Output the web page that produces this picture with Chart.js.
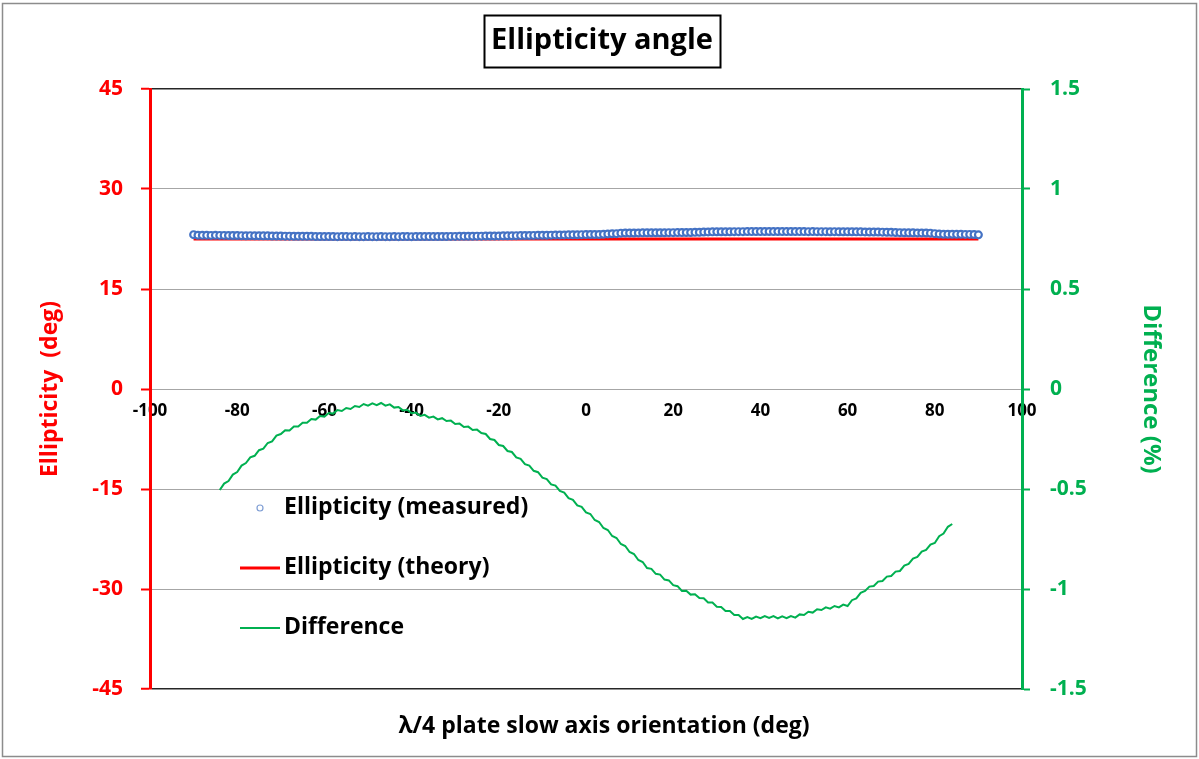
<!DOCTYPE html>
<html>
<head>
<meta charset="utf-8">
<title>Ellipticity angle</title>
<script src="https://cdn.jsdelivr.net/npm/chart.js@4.4.1/dist/chart.umd.min.js"></script>
<style>
    html, body { margin: 0; padding: 0; background: #ffffff; }
    #wrap { width: 1199px; height: 759px; position: relative; }
</style>
</head>
<body>
<div id="wrap"><canvas id="chart" width="1199" height="759"></canvas></div>
<script>
/* ---------- data ---------- */

// λ/4 plate slow axis orientation (deg)
const angles = [
    -90, -89, -88, -87, -86, -85, -84, -83, -82, -81, -80, -79, -78, -77, -76, -75, -74, -73, -72, -71,
    -70, -69, -68, -67, -66, -65, -64, -63, -62, -61, -60, -59, -58, -57, -56, -55, -54, -53, -52, -51,
    -50, -49, -48, -47, -46, -45, -44, -43, -42, -41, -40, -39, -38, -37, -36, -35, -34, -33, -32, -31,
    -30, -29, -28, -27, -26, -25, -24, -23, -22, -21, -20, -19, -18, -17, -16, -15, -14, -13, -12, -11,
    -10, -9, -8, -7, -6, -5, -4, -3, -2, -1, 0, 1, 2, 3, 4, 5, 6, 7, 8, 9,
    10, 11, 12, 13, 14, 15, 16, 17, 18, 19, 20, 21, 22, 23, 24, 25, 26, 27, 28, 29,
    30, 31, 32, 33, 34, 35, 36, 37, 38, 39, 40, 41, 42, 43, 44, 45, 46, 47, 48, 49,
    50, 51, 52, 53, 54, 55, 56, 57, 58, 59, 60, 61, 62, 63, 64, 65, 66, 67, 68, 69,
    70, 71, 72, 73, 74, 75, 76, 77, 78, 79, 80, 81, 82, 83, 84, 85, 86, 87, 88, 89,
    90
];

// Ellipticity (measured), deg
const measured = [
    23.15, 23.06, 23.05, 23.05, 23.04, 23.05, 23.04, 23.04, 23.03, 23.03, 23.02, 23.00, 22.99, 23.00, 22.98, 22.98, 22.97, 22.97, 22.95, 22.94,
    22.94, 22.93, 22.93, 22.92, 22.92, 22.91, 22.90, 22.90, 22.87, 22.86, 22.86, 22.87, 22.86, 22.85, 22.86, 22.86, 22.85, 22.86, 22.85, 22.85,
    22.86, 22.85, 22.85, 22.86, 22.85, 22.85, 22.86, 22.85, 22.86, 22.86, 22.85, 22.86, 22.86, 22.87, 22.86, 22.86, 22.87, 22.87, 22.88, 22.89,
    22.89, 22.90, 22.90, 22.91, 22.92, 22.93, 22.93, 22.94, 22.95, 22.95, 22.96, 22.97, 22.98, 22.99, 23.00, 23.01, 23.02, 23.03, 23.04, 23.05,
    23.06, 23.07, 23.08, 23.09, 23.10, 23.11, 23.12, 23.13, 23.14, 23.15, 23.16, 23.17, 23.18, 23.18, 23.22, 23.26, 23.28, 23.30, 23.38, 23.39,
    23.40, 23.40, 23.41, 23.42, 23.42, 23.43, 23.43, 23.44, 23.44, 23.45, 23.45, 23.46, 23.46, 23.47, 23.48, 23.50, 23.52, 23.55, 23.56, 23.57,
    23.58, 23.58, 23.59, 23.59, 23.60, 23.60, 23.60, 23.61, 23.61, 23.61, 23.61, 23.62, 23.62, 23.61, 23.62, 23.61, 23.61, 23.62, 23.61, 23.61,
    23.61, 23.60, 23.61, 23.60, 23.60, 23.60, 23.59, 23.60, 23.59, 23.59, 23.58, 23.58, 23.57, 23.57, 23.56, 23.55, 23.55, 23.54, 23.53, 23.52,
    23.50, 23.48, 23.45, 23.43, 23.42, 23.42, 23.41, 23.41, 23.40, 23.38, 23.30, 23.24, 23.22, 23.21, 23.21, 23.20, 23.20, 23.19, 23.19, 23.18,
    23.12
];

// Ellipticity (theory), deg
const theoryAngles = [-90, 90];
const theory = [22.5, 22.5];

// Difference (%), null where no value is plotted
const difference = [
    null, null, null, null, null, null,
    -0.505, -0.473, -0.460, -0.428, -0.415, -0.383, -0.370, -0.342, -0.334, -0.306, -0.298, -0.270, -0.262, -0.233,
    -0.225, -0.206, -0.207, -0.187, -0.188, -0.169, -0.169, -0.150, -0.153, -0.135, -0.138, -0.120, -0.123, -0.105,
    -0.110, -0.095, -0.100, -0.085, -0.090, -0.075, -0.083, -0.072, -0.081, -0.070, -0.083, -0.077, -0.093, -0.090,
    -0.107, -0.104, -0.121, -0.118, -0.135, -0.129, -0.143, -0.138, -0.152, -0.146, -0.160, -0.158, -0.175, -0.173,
    -0.190, -0.188, -0.205, -0.203, -0.220, -0.225, -0.250, -0.255, -0.280, -0.285, -0.310, -0.315, -0.342, -0.349,
    -0.376, -0.383, -0.409, -0.416, -0.443, -0.450, -0.477, -0.483, -0.510, -0.518, -0.546, -0.554, -0.582, -0.589,
    -0.617, -0.625, -0.655, -0.665, -0.695, -0.705, -0.735, -0.745, -0.775, -0.785, -0.815, -0.825, -0.855, -0.865,
    -0.895, -0.899, -0.924, -0.928, -0.953, -0.957, -0.981, -0.986, -1.010, -1.009, -1.028, -1.026, -1.045, -1.046,
    -1.067, -1.068, -1.089, -1.090, -1.110, -1.110, -1.130, -1.130, -1.150, -1.141, -1.150, -1.138, -1.146, -1.135,
    -1.145, -1.136, -1.147, -1.137, -1.146, -1.135, -1.143, -1.127, -1.130, -1.114, -1.118, -1.101, -1.105, -1.092,
    -1.098, -1.085, -1.092, -1.078, -1.085, -1.056, -1.047, -1.019, -1.010, -0.988, -0.985, -0.963, -0.960, -0.938,
    -0.935, -0.913, -0.910, -0.883, -0.875, -0.848, -0.840, -0.813, -0.805, -0.778, -0.770, -0.736, -0.723, -0.689,
    -0.675,
    null, null, null, null, null, null
];

const seriesLabels = ['Ellipticity (measured)', 'Ellipticity (theory)', 'Difference'];
const chartTitle = 'Ellipticity angle';
const xTitle = 'λ/4 plate slow axis orientation (deg)';
const yTitle = 'Ellipticity  (deg)';
const y2Title = 'Difference (%)';

/* ---------- styling ---------- */

const FONT = '"Open Sans", "Noto Sans", sans-serif';
const RED = '#FF0000';
const GREEN = '#00B050';
const BLUE = '#4472C4';
const GRID = '#A6A6A6';

const pts = (xs, ys) => xs.map((x, i) => ({ x, y: ys[i] }));

// white page, outer frame and the boxed title
const framePlugin = {
    id: 'frame',
    beforeDraw(chart) {
        const ctx = chart.ctx;
        ctx.save();
        ctx.fillStyle = '#ffffff';
        ctx.fillRect(0, 0, chart.width, chart.height);
        ctx.strokeStyle = '#8C8C8C';
        ctx.lineWidth = 1.5;
        ctx.strokeRect(2.5, 3.5, chart.width - 5, chart.height - 6);
        ctx.restore();
    },
    afterDraw(chart) {
        const ctx = chart.ctx;
        ctx.save();
        // title with box
        ctx.font = `bold 29px ${FONT}`;
        ctx.fillStyle = '#000000';
        ctx.textAlign = 'center';
        ctx.textBaseline = 'middle';
        const cx = 602;
        const w = ctx.measureText(chartTitle).width + 14;
        ctx.fillText(chartTitle, cx, 41);
        ctx.strokeStyle = '#000000';
        ctx.lineWidth = 2;
        ctx.strokeRect(Math.round(cx - w / 2) + 0.5, 15.5, Math.round(w), 52);
        // x axis title
        ctx.font = `bold 23px ${FONT}`;
        ctx.fillText(xTitle, 604, 726);
        ctx.restore();
    }
};

// Excel-style legend sitting inside the plot
const legendPlugin = {
    id: 'insideLegend',
    afterDatasetsDraw(chart) {
        const ctx = chart.ctx;
        ctx.save();
        ctx.font = `bold 23px ${FONT}`;
        ctx.fillStyle = '#000000';
        ctx.textAlign = 'left';
        ctx.textBaseline = 'middle';
        chart.data.datasets.forEach((ds, i) => {
            const y = 508 + i * 60;
            if (ds.showLine === false) {
                ctx.beginPath();
                ctx.arc(260, y, 3, 0, Math.PI * 2);
                ctx.strokeStyle = '#7F9ED4';
                ctx.lineWidth = 1.2;
                ctx.stroke();
            } else {
                ctx.beginPath();
                ctx.moveTo(240, y);
                ctx.lineTo(280, y);
                ctx.strokeStyle = ds.borderColor;
                ctx.lineWidth = ds.borderWidth;
                ctx.stroke();
            }
            ctx.fillText(ds.label, 284, y - 1);
        });
        ctx.restore();
    }
};

new Chart(document.getElementById('chart'), {
    type: 'line',
    data: {
        datasets: [
            {
                label: seriesLabels[0],
                data: pts(angles, measured),
                yAxisID: 'y',
                showLine: false,
                pointStyle: 'circle',
                pointRadius: 3.4,
                pointBorderWidth: 2.2,
                pointBorderColor: BLUE,
                pointBackgroundColor: '#ffffff',
                borderColor: BLUE
            },
            {
                label: seriesLabels[1],
                data: pts(theoryAngles, theory),
                yAxisID: 'y',
                borderColor: RED,
                borderWidth: 3,
                pointRadius: 0
            },
            {
                label: seriesLabels[2],
                data: pts(angles, difference),
                yAxisID: 'y2',
                borderColor: GREEN,
                borderWidth: 2,
                pointRadius: 0,
                spanGaps: false
            }
        ]
    },
    options: {
        responsive: false,
        animation: false,
        layout: { padding: { top: 89, bottom: 70, left: 0, right: 0 } },
        plugins: {
            legend: { display: false },
            tooltip: { enabled: false },
            title: { display: false }
        },
        scales: {
            x: {
                type: 'linear',
                position: { y: 0 },
                min: -100,
                max: 100,
                ticks: {
                    stepSize: 20,
                    color: '#000000',
                    padding: 12,
                    maxRotation: 0,
                    font: { family: FONT, size: 17, weight: 'bold' }
                },
                grid: { display: false, drawTicks: false },
                border: { display: false }
            },
            y: {
                type: 'linear',
                position: 'left',
                min: -45,
                max: 45,
                afterFit: (scale) => { scale.width = 150; },
                ticks: {
                    stepSize: 15,
                    color: RED,
                    padding: 18,
                    font: { family: FONT, size: 21, weight: 'bold' }
                },
                grid: {
                    color: (c) => (c.tick && Math.abs(c.tick.value) === 45 ? '#262626' : GRID),
                    lineWidth: (c) => (c.tick && Math.abs(c.tick.value) === 45 ? 1.5 : 1),
                    tickColor: RED,
                    tickLength: 9,
                    tickWidth: 2
                },
                border: { color: RED, width: 3 },
                title: {
                    display: true,
                    text: yTitle,
                    color: RED,
                    padding: { top: 37, bottom: 0 },
                    font: { family: FONT, size: 23, weight: 'bold' }
                }
            },
            y2: {
                type: 'linear',
                position: 'right',
                min: -1.5,
                max: 1.5,
                afterFit: (scale) => { scale.width = 177; },
                ticks: {
                    stepSize: 0.5,
                    color: GREEN,
                    padding: 20,
                    callback: (v) => String(v),
                    font: { family: FONT, size: 21, weight: 'bold' }
                },
                grid: {
                    drawOnChartArea: false,
                    tickColor: GREEN,
                    tickLength: 8,
                    tickWidth: 2
                },
                border: { color: GREEN, width: 3 },
                title: {
                    display: true,
                    text: y2Title,
                    color: GREEN,
                    padding: { top: 34, bottom: 0 },
                    font: { family: FONT, size: 24, weight: 'bold' }
                }
            }
        }
    },
    plugins: [framePlugin, legendPlugin]
});
</script>
</body>
</html>
